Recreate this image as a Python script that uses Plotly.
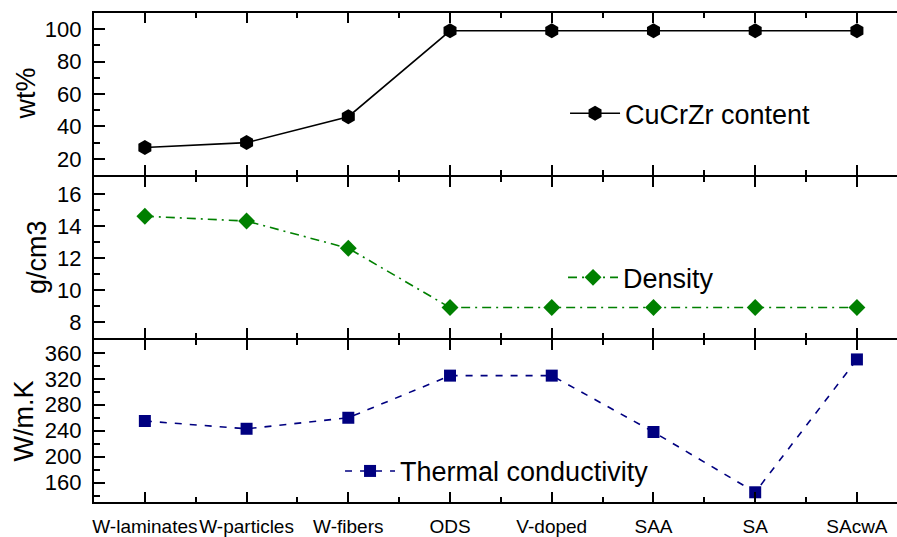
import plotly.graph_objects as go
from plotly.subplots import make_subplots

# Alloy concepts along the shared x axis
categories = ["W-laminates", "W-particles", "W-fibers", "ODS", "V-doped", "SAA", "SA", "SAcwA"]

# CuCrZr content (wt%)
cucrzr_wt = [27, 30, 46, 99, 99, 99, 99, 99]
# Density (g/cm3)
density = [14.6, 14.3, 12.6, 8.9, 8.9, 8.9, 8.9, 8.9]
# Thermal conductivity (W/m.K)
thermal_cond = [255, 243, 260, 325, 325, 238, 145, 350]

# Y-axis titles, one per panel
y_titles = ["wt%", "g/cm3", "W/m.K"]

x_pos = list(range(len(categories)))

FONT = "Liberation Sans, Arial, sans-serif"
W, H = 897, 537
M_L, M_R, M_T, M_B = 94, 0, 13, 29
PLOT_W = W - M_L - M_R
PLOT_H = H - M_T - M_B
GAP = 2 / PLOT_H                # room for one shared 2px border between panels

fig = make_subplots(rows=3, cols=1, shared_xaxes=True, vertical_spacing=0)

fig.add_trace(go.Scatter(
    x=x_pos, y=cucrzr_wt, mode="lines+markers", name="CuCrZr content",
    line=dict(color="black", width=1.6),
    marker=dict(symbol="hexagon", size=15, color="black"),
    legend="legend", showlegend=True,
), row=1, col=1)

fig.add_trace(go.Scatter(
    x=x_pos, y=density, mode="lines+markers", name="Density",
    line=dict(color="#008000", width=1.6, dash="9px,5px,2px,5px"),
    marker=dict(symbol="diamond", size=13, color="#008000"),
    legend="legend2", showlegend=True,
), row=2, col=1)

fig.add_trace(go.Scatter(
    x=x_pos, y=thermal_cond, mode="lines+markers", name="Thermal conductivity",
    line=dict(color="#000080", width=1.6, dash="7px,8px"),
    marker=dict(symbol="square", size=12, color="#000080"),
    legend="legend3", showlegend=True,
), row=3, col=1)

x_common = dict(
    range=[-0.5, 7.394],
    tickmode="array", tickvals=x_pos, ticktext=categories,
    ticks="inside", ticklen=10, tickwidth=2, tickcolor="black",
    showline=True, linewidth=2, linecolor="black", mirror="ticks",
    showgrid=False, zeroline=False, tickangle=0,
    minor=dict(dtick=0.5, tick0=0, ticks="inside", ticklen=5, tickwidth=2, tickcolor="black"),
    tickfont=dict(family=FONT, size=19, color="black"),
)
for i in (1, 2, 3):
    fig.update_xaxes(**x_common, row=i, col=1)
fig.update_xaxes(ticklabelstandoff=6, row=3, col=1)

y_common = dict(
    ticks="inside", ticklen=11, tickwidth=2, tickcolor="black",
    showline=True, linewidth=2, linecolor="black", mirror=False,
    showgrid=False, zeroline=False,
    tickfont=dict(family=FONT, size=22, color="black"),
    ticksuffix="\u00a0",
)
domains = [
    [2 / 3 + GAP / 2, 1],
    [1 / 3 + GAP / 2, 2 / 3 - GAP / 2],
    [0, 1 / 3 - GAP / 2],
]
fig.update_yaxes(**y_common, range=[10, 110], tick0=0, dtick=20,
                 minor=dict(dtick=10, ticks="inside", ticklen=6, tickwidth=2, tickcolor="black"),
                 domain=domains[0], row=1, col=1)
fig.update_yaxes(**y_common, range=[7, 17.05], tick0=0, dtick=2,
                 minor=dict(dtick=1, ticks="inside", ticklen=6, tickwidth=2, tickcolor="black"),
                 domain=domains[1], row=2, col=1)
fig.update_yaxes(**y_common, range=[130, 380], tick0=0, dtick=40,
                 minor=dict(dtick=20, ticks="inside", ticklen=6, tickwidth=2, tickcolor="black"),
                 domain=domains[2], row=3, col=1)

# Rotated y-axis titles, centred on each panel
title_px = [25.6, 36.6, 23.6]
for text, px, dom in zip(y_titles, title_px, domains):
    fig.add_annotation(
        text=text, textangle=-90, showarrow=False,
        xref="paper", yref="paper",
        x=(px - M_L) / PLOT_W, y=(dom[0] + dom[1]) / 2,
        xanchor="center", yanchor="middle",
        font=dict(family=FONT, size=27, color="black"),
    )

legend_style = dict(
    font=dict(family=FONT, size=27, color="black"),
    bgcolor="rgba(0,0,0,0)", itemwidth=50,
    xanchor="left", yanchor="middle",
)
fig.update_layout(
    width=W, height=H,
    margin=dict(l=M_L, r=M_R, t=M_T, b=M_B),
    paper_bgcolor="white", plot_bgcolor="white",
    font=dict(family=FONT, color="black"),
    showlegend=True,
    legend=dict(**legend_style, x=0.5866, y=0.794),
    legend2=dict(**legend_style, x=0.5841, y=0.4585),
    legend3=dict(**legend_style, x=0.3064, y=0.0626),
)

fig.write_html("out.html")
